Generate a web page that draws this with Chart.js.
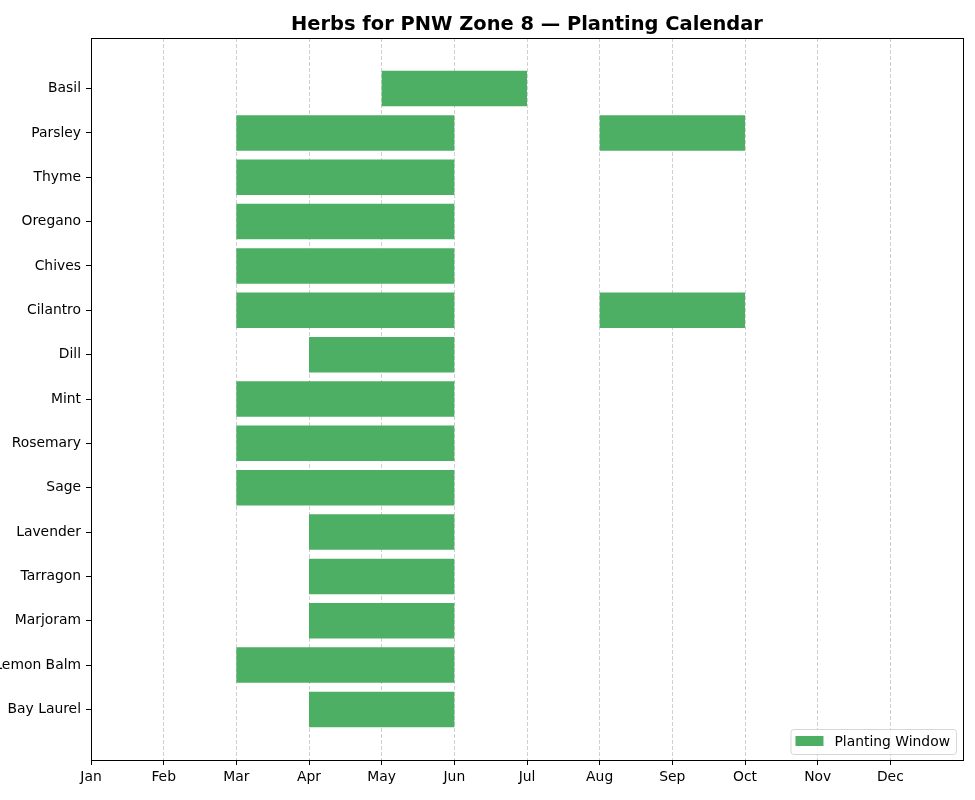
<!DOCTYPE html>
<html>
<head>
<meta charset="utf-8">
<style>
  html, body { margin: 0; padding: 0; background: #fff; overflow: hidden; }
  canvas { display: block; }
</style>
<script src="https://cdn.jsdelivr.net/npm/chart.js@4.4.1/dist/chart.umd.min.js"></script>
</head>
<body>
<canvas id="c" width="975" height="800"></canvas>
<script>
// ---- Data ----
const herbs = ['Basil', 'Parsley', 'Thyme', 'Oregano', 'Chives', 'Cilantro', 'Dill', 'Mint',
               'Rosemary', 'Sage', 'Lavender', 'Tarragon', 'Marjoram', 'Lemon Balm', 'Bay Laurel'];
// month index: Jan = 0 ... Dec = 11
const windowStart  = [4, 2, 2, 2, 2, 2, 3, 2, 2, 2, 3, 3, 3, 2, 3];
const windowEnd    = [6, 5, 5, 5, 5, 5, 5, 5, 5, 5, 5, 5, 5, 5, 5];
const window2Start = [null, 7, null, null, null, 7, null, null, null, null, null, null, null, null, null];
const window2End   = [null, 9, null, null, null, 9, null, null, null, null, null, null, null, null, null];
const monthLabels  = ['Jan', 'Feb', 'Mar', 'Apr', 'May', 'Jun', 'Jul', 'Aug', 'Sep', 'Oct', 'Nov', 'Dec'];
const titleText = 'Herbs for PNW Zone 8 \u2014 Planting Calendar';
const seriesLabel = 'Planting Window';

// ---- Build bar data ----
const points = [];
herbs.forEach((h, i) => {
  points.push({ x: [windowStart[i], windowEnd[i]], y: i });
  if (window2Start[i] !== null) points.push({ x: [window2Start[i], window2End[i]], y: i });
});

const FONT = 'DejaVu Sans';
const GREEN = '#4caf63';
const TICK_SIZE = 13.89;

const framePlugin = {
  id: 'frame',
  afterDraw(chart) {
    const { ctx, chartArea: a } = chart;
    ctx.save();
    // full box (spines)
    ctx.strokeStyle = '#000';
    ctx.lineWidth = 1;
    ctx.strokeRect(Math.round(a.left) + 0.5, Math.round(a.top) + 0.5,
                   Math.round(a.right - a.left), Math.round(a.bottom - a.top));
    // title
    ctx.fillStyle = '#000';
    ctx.font = 'bold 19.44px "' + FONT + '"';
    ctx.textAlign = 'center';
    ctx.textBaseline = 'middle';
    ctx.fillText(titleText, (a.left + a.right) / 2, 25);
    // legend
    const ds = chart.data.datasets[0];
    ctx.font = TICK_SIZE + 'px "' + FONT + '"';
    const tw = ctx.measureText(ds.label).width;
    const w = 5 + 28 + 11 + tw + 6;
    const h = 25;
    const x = a.right - 7 - w;
    const y = a.bottom - 6 - h;
    ctx.beginPath();
    if (ctx.roundRect) ctx.roundRect(x + 0.5, y + 0.5, w, h, 3); else ctx.rect(x + 0.5, y + 0.5, w, h);
    ctx.fillStyle = 'rgba(255,255,255,0.8)';
    ctx.fill();
    ctx.strokeStyle = '#d6d6d6';
    ctx.lineWidth = 1;
    ctx.stroke();
    ctx.fillStyle = ds.backgroundColor;
    ctx.fillRect(x + 5, y + 7, 28, 10);
    ctx.fillStyle = '#000';
    ctx.textAlign = 'left';
    ctx.textBaseline = 'middle';
    ctx.fillText(ds.label, x + 5 + 28 + 11, y + h / 2 + 0.5);
    ctx.restore();
  }
};

new Chart(document.getElementById('c'), {
  type: 'bar',
  data: {
    datasets: [{
      label: seriesLabel,
      data: points,
      backgroundColor: GREEN,
      borderWidth: 0,
      borderSkipped: false,
      barPercentage: 0.8,
      categoryPercentage: 1.0
    }]
  },
  options: {
    responsive: false,
    animation: false,
    devicePixelRatio: 1,
    indexAxis: 'y',
    layout: { padding: { left: 0, top: 38, right: 12, bottom: 0 } },
    plugins: {
      legend: { display: false },
      title: { display: false },
      tooltip: { enabled: false }
    },
    scales: {
      x: {
        type: 'linear',
        position: 'bottom',
        min: 0,
        max: 12,
        z: 1,
        offset: false,
        afterBuildTicks(scale) {
          scale.ticks = monthLabels.map((_, i) => ({ value: i }));
        },
        afterFit(scale) { scale.height = 40; },
        ticks: {
          autoSkip: false,
          maxRotation: 0,
          padding: 4,
          color: '#000',
          font: { family: FONT, size: TICK_SIZE },
          callback: (v) => monthLabels[v]
        },
        grid: {
          display: true,
          offset: false,
          drawOnChartArea: true,
          drawTicks: true,
          color: 'rgba(176,176,176,0.75)',
          lineWidth: 0.8,
          tickLength: 5,
          tickColor: '#000',
          tickWidth: 1,
          tickBorderDash: []
        },
        border: { display: true, color: '#000', width: 1, dash: [4, 2] }
      },
      y: {
        type: 'linear',
        reverse: true,
        min: -1.14,
        max: 15.14,
        offset: false,
        afterBuildTicks(scale) {
          scale.ticks = herbs.map((_, i) => ({ value: i }));
        },
        afterFit(scale) { scale.width = 91; },
        ticks: {
          autoSkip: false,
          padding: 5,
          color: '#000',
          font: { family: FONT, size: TICK_SIZE },
          callback: (v) => herbs[v]
        },
        grid: {
          display: true,
          offset: false,
          drawOnChartArea: false,
          drawTicks: true,
          tickLength: 5,
          tickColor: '#000',
          tickWidth: 1
        },
        border: { display: true, color: '#000', width: 1 }
      }
    }
  },
  plugins: [framePlugin]
});
</script>
</body>
</html>
